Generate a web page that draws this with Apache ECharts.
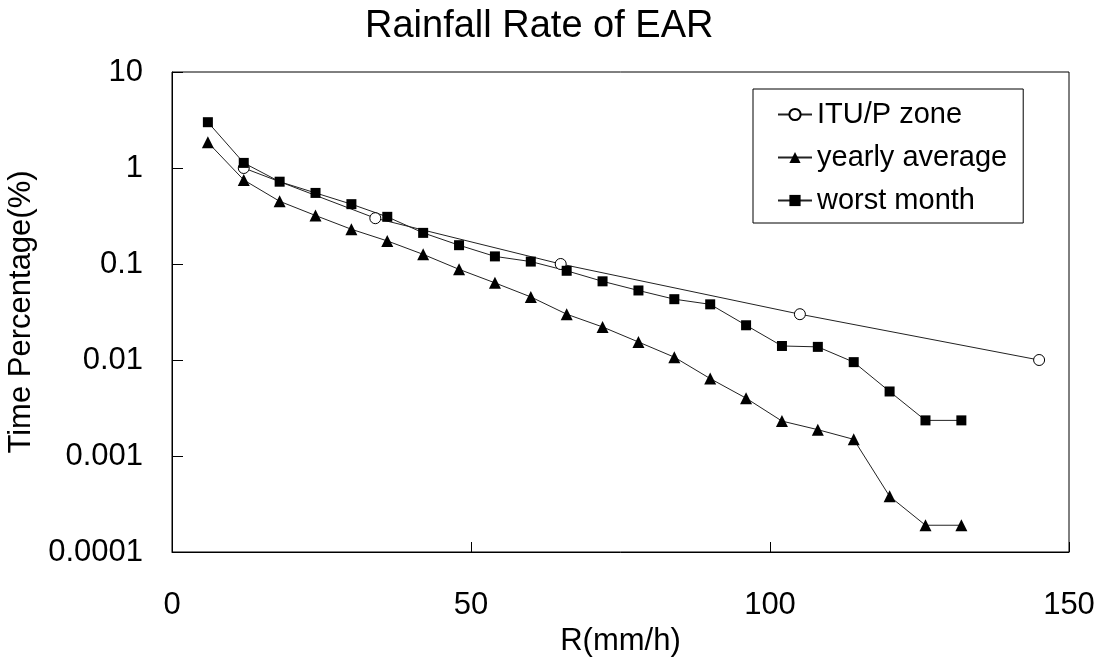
<!DOCTYPE html>
<html>
<head>
<meta charset="utf-8">
<script src="https://cdn.jsdelivr.net/npm/echarts@6/dist/echarts.min.js"></script>
<style>html,body{margin:0;padding:0;background:#fff}#c{width:1100px;height:659px}</style>
</head>
<body>
<div id="c"></div>
<script>
var rainRate = [6, 12, 18, 24, 30, 36, 42, 48, 54, 60, 66, 72, 78, 84, 90, 96, 102, 108, 114, 120, 126, 132];
var yearlyAverage = [1.85, 0.75, 0.45, 0.32, 0.23, 0.174, 0.126, 0.088, 0.0636, 0.0454, 0.030, 0.0221, 0.0154, 0.0107, 0.0064, 0.0040, 0.00231, 0.00188, 0.00149, 0.00038, 0.00019, 0.00019];
var worstMonth = [3.0, 1.13, 0.72, 0.55, 0.42, 0.31, 0.211, 0.157, 0.12, 0.106, 0.085, 0.066, 0.053, 0.043, 0.038, 0.023, 0.014, 0.0137, 0.0095, 0.0047, 0.00235, 0.00235];
var ituRate = [12, 34, 65, 105, 145];
var ituPercent = [1, 0.3, 0.1, 0.03, 0.01];
var yTickLabels = ['0.0001', '0.001', '0.01', '0.1', '1', '10'];
var seriesNames = ['ITU/P zone', 'yearly average', 'worst month'];

function pairs(xs, ys) { return xs.map(function (x, i) { return [x, ys[i]]; }); }
var FONT = "'Liberation Sans', Arial, sans-serif";

var chart = echarts.init(document.getElementById('c'), null, { renderer: 'canvas' });
chart.setOption({
  animation: false,
  backgroundColor: '#fff',
  title: {
    text: 'Rainfall Rate of EAR',
    left: 360, top: 3,
    textStyle: { fontFamily: FONT, fontSize: 38, fontWeight: 'normal', color: '#000' }
  },
  grid: {
    left: 172, right: 31, top: 72, bottom: 107,
    outerBoundsMode: 'none', containLabel: false,
    show: true, borderColor: '#000', borderWidth: 1, backgroundColor: 'transparent'
  },
  legend: {
    orient: 'vertical',
    left: 753, top: 89,
    padding: [11, 16, 8, 24],
    itemWidth: 34, itemHeight: 14, itemGap: 14,
    borderColor: '#000', borderWidth: 1, backgroundColor: '#fff',
    textStyle: { fontFamily: FONT, fontSize: 29, color: '#000' },
    data: seriesNames
  },
  xAxis: {
    type: 'value', min: 0, max: 150, interval: 50,
    name: 'R(mm/h)', nameLocation: 'middle', nameGap: 74,
    nameTextStyle: { fontFamily: FONT, fontSize: 31, color: '#000' },
    axisLine: { show: true, lineStyle: { color: '#000', width: 1 } },
    axisTick: { show: true, inside: true, length: 10, lineStyle: { color: '#000' } },
    axisLabel: { fontFamily: FONT, fontSize: 31, color: '#000', margin: 38 },
    splitLine: { show: false }
  },
  yAxis: {
    type: 'log', logBase: 10, min: 0.0001, max: 10,
    name: 'Time Percentage(%)', nameLocation: 'middle', nameGap: 127,
    nameTextStyle: { fontFamily: FONT, fontSize: 31, color: '#000' },
    axisLine: { show: true, lineStyle: { color: '#000', width: 1 } },
    axisTick: { show: true, inside: true, length: 11, lineStyle: { color: '#000' } },
    axisLabel: {
      fontFamily: FONT, fontSize: 31, color: '#000', margin: 29,
      formatter: function (v) { return yTickLabels[Math.round(Math.log10(v)) + 4]; }
    },
    splitLine: { show: false }
  },
  series: [
    {
      name: seriesNames[0], type: 'line', data: pairs(ituRate, ituPercent),
      symbol: 'circle', symbolSize: 11, z: 3,
      lineStyle: { color: '#222', width: 1 },
      itemStyle: { color: '#fff', borderColor: '#000', borderWidth: 1 }
    },
    {
      name: seriesNames[1], type: 'line', data: pairs(rainRate, yearlyAverage),
      symbol: 'triangle', symbolSize: 12,
      lineStyle: { color: '#222', width: 1 },
      itemStyle: { color: '#000' }
    },
    {
      name: seriesNames[2], type: 'line', data: pairs(rainRate, worstMonth),
      symbol: 'rect', symbolSize: 10,
      lineStyle: { color: '#222', width: 1 },
      itemStyle: { color: '#000' }
    }
  ]
});
</script>
</body>
</html>
